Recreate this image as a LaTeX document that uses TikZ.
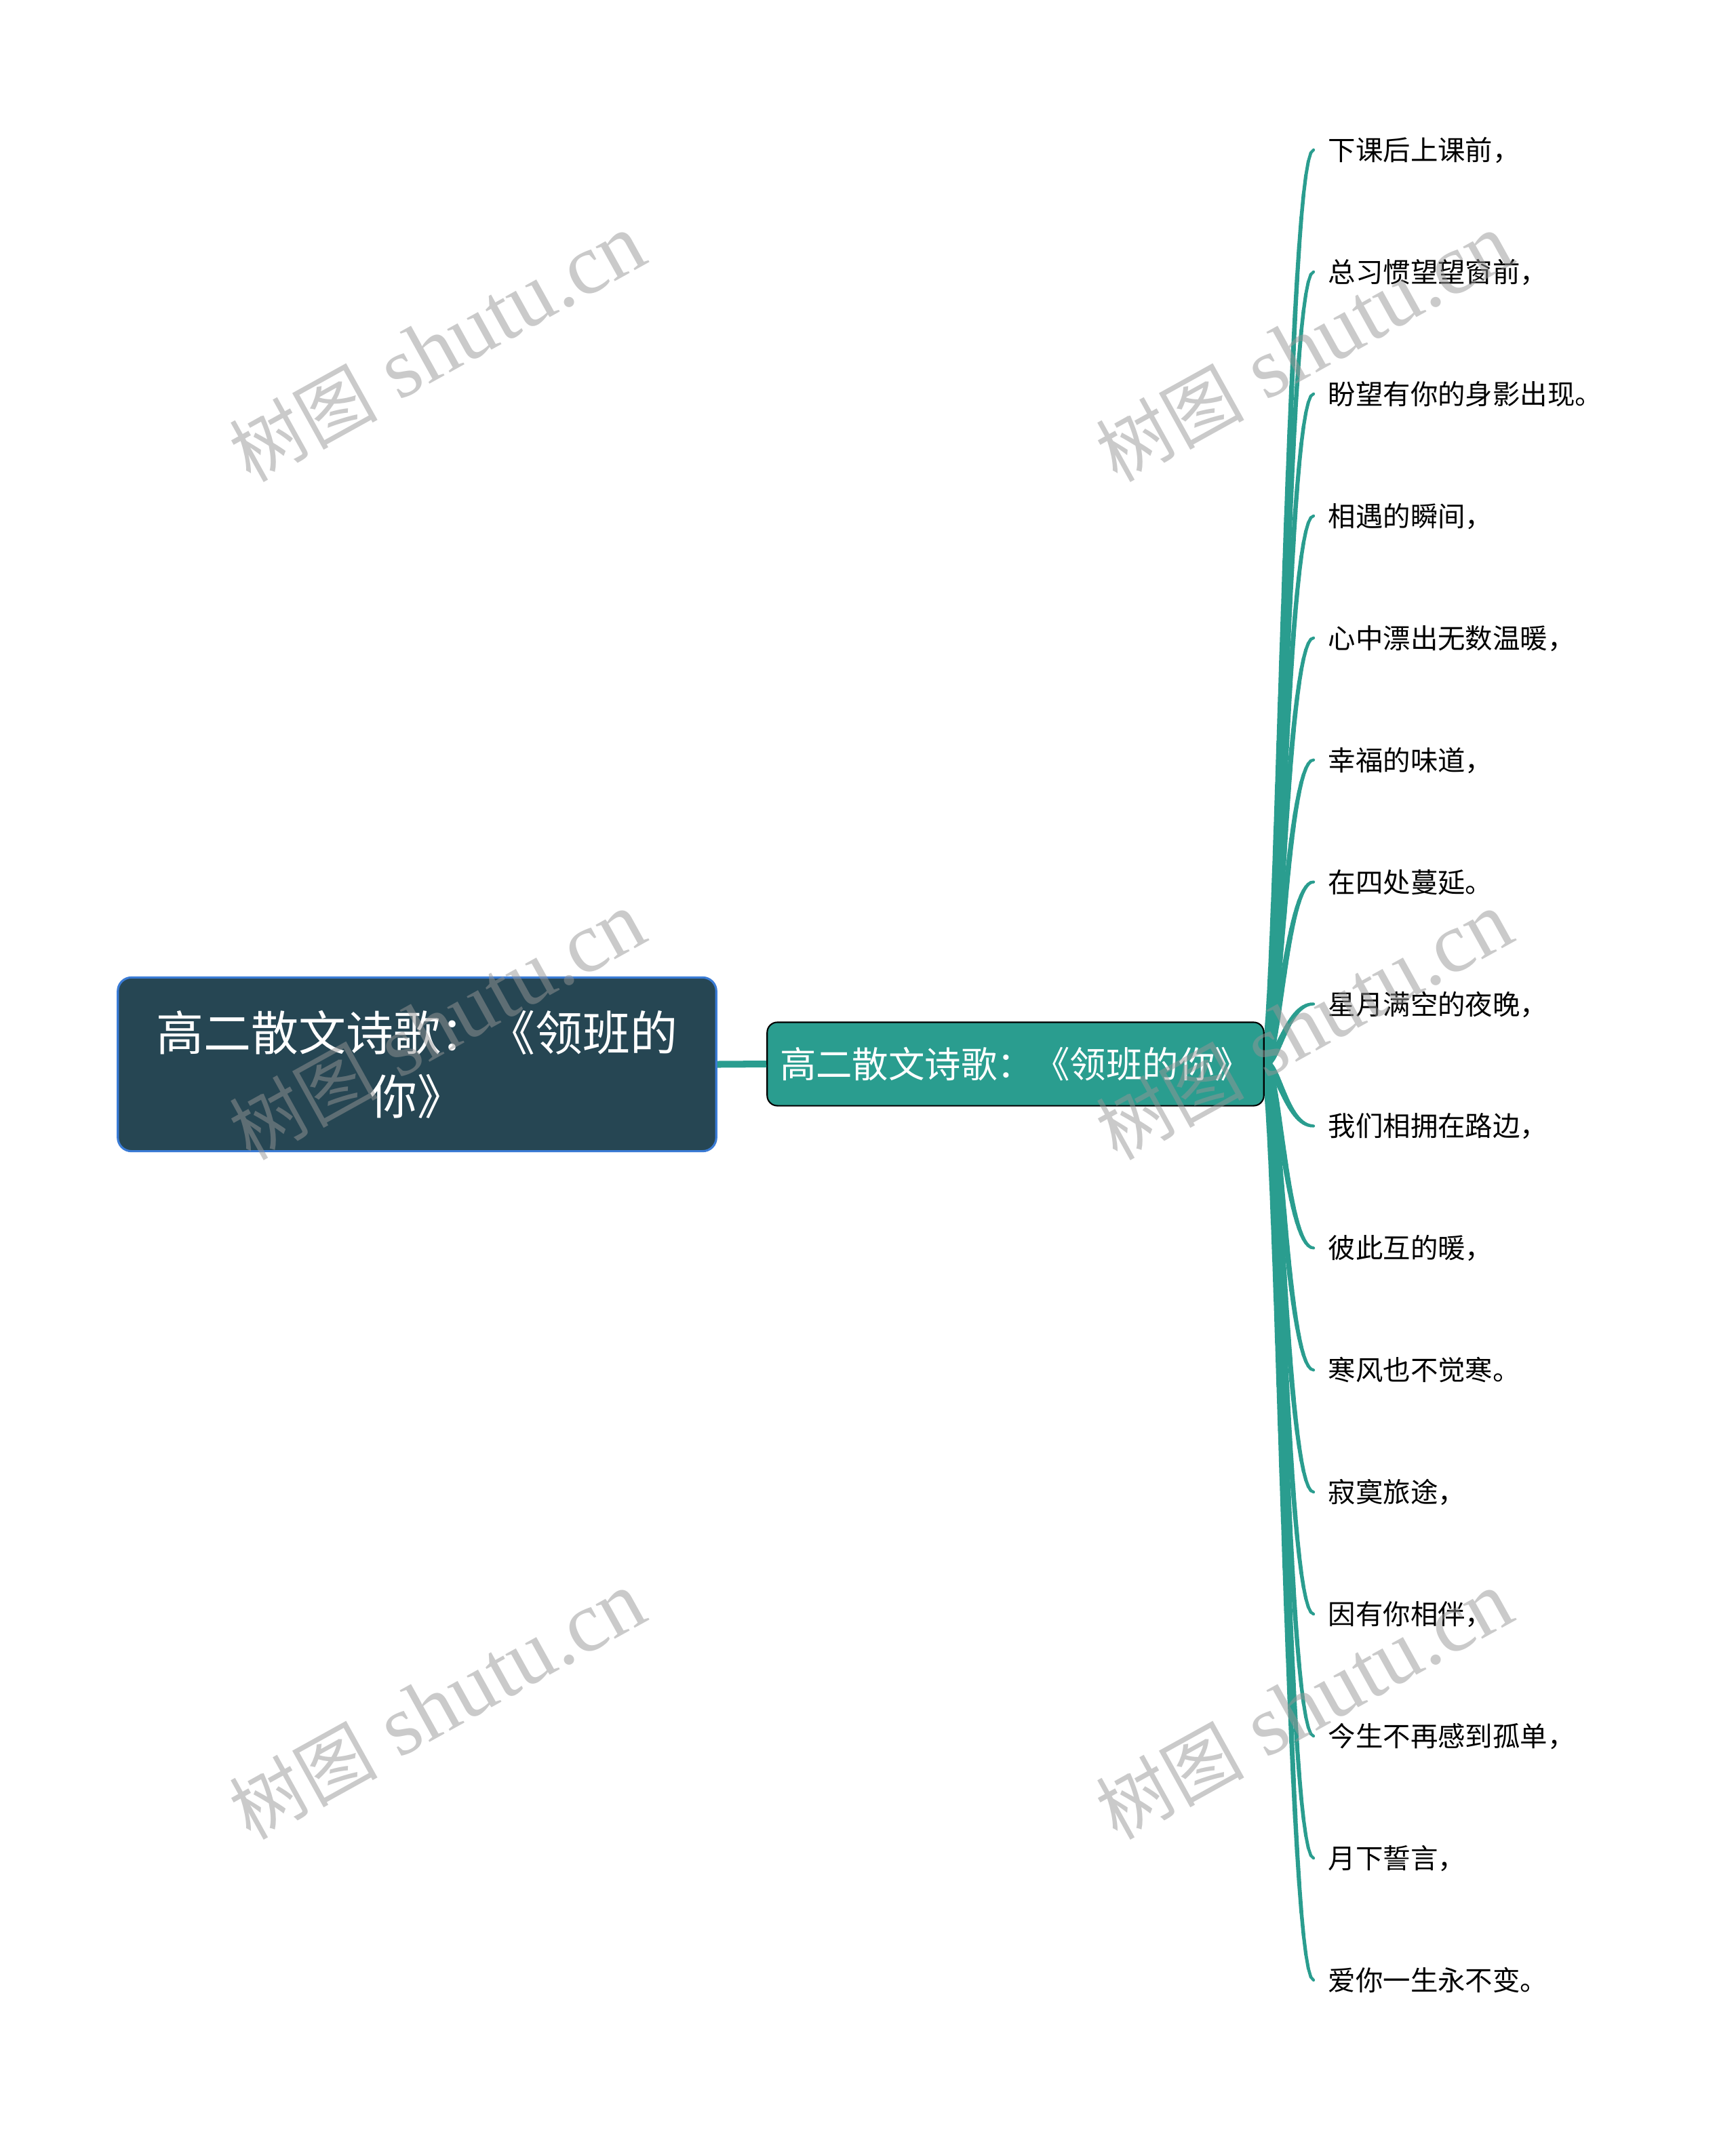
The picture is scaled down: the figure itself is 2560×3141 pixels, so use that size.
\documentclass[tikz,border=0pt]{standalone}
\usepackage{fontspec}
\setmainfont{Noto Sans CJK SC}
\newfontfamily\wmserif{Liberation Serif}
\definecolor{rootfill}{HTML}{264653}
\definecolor{rootline}{HTML}{3A7BD5}
\definecolor{branchteal}{HTML}{2A9D8F}
\definecolor{wmgray}{RGB}{150,150,150}
\tikzset{
  rootbox/.style={draw=rootline, line width=0.9pt, fill=rootfill, rounded corners=0.2cm,
    minimum width=8.82cm, minimum height=2.56cm, inner sep=0pt, text=white, align=center,
    font=\fontsize{19.9}{26.7}\selectfont},
  midbox/.style={draw=black, line width=0.6pt, fill=branchteal, rounded corners=0.15cm,
    minimum width=7.32cm, minimum height=1.23cm, inner sep=0pt, text=white,
    font=\fontsize{15.2}{18}\selectfont},
  leaf/.style={anchor=base west, inner sep=0pt, text=black, font=\fontsize{11.5}{14}\selectfont},
  trunk/.style={draw=branchteal, line width=2.85pt},
  wm/.style={text=wmgray, opacity=0.5, rotate=29, inner sep=0pt},
}
\begin{document}
\begin{tikzpicture}[x=0.01cm,y=-0.01cm]
\useasboundingbox (0,0) rectangle (2560,3141);
\fill[white] (0,0) rectangle (2560,3141);

% tapered branches
\foreach \i in {1,...,16}{
  \pgfmathsetmacro\yy{221+179.93*(\i-1)}
  \foreach \k in {0,...,29}{
    \pgfmathsetmacro\ta{\k/30}
    \pgfmathsetmacro\tb{(\k+1)/30}
    \pgfmathsetmacro\ua{1-\ta}
    \pgfmathsetmacro\ub{1-\tb}
    \pgfmathsetmacro\xa{\ua*\ua*\ua*1864+3*\ua*\ua*\ta*1885+3*\ua*\ta*\ta*1897+\ta*\ta*\ta*1937}
    \pgfmathsetmacro\ya{(\ua*\ua*\ua+3*\ua*\ua*\ta)*1568+(3*\ua*\ta*\ta+\ta*\ta*\ta)*\yy}
    \pgfmathsetmacro\xb{\ub*\ub*\ub*1864+3*\ub*\ub*\tb*1885+3*\ub*\tb*\tb*1897+\tb*\tb*\tb*1937}
    \pgfmathsetmacro\yb{(\ub*\ub*\ub+3*\ub*\ub*\tb)*1568+(3*\ub*\tb*\tb+\tb*\tb*\tb)*\yy}
    \pgfmathsetmacro\lw{(13-9*\ta)*0.2845}
    \draw[branchteal, line width=\lw pt, line cap=round] (\xa,\ya) -- (\xb,\yb);
  }
}

\node[rootbox] (root) at (615,1569.5) {高二散文诗歌：《领班的\\你》};
\node[midbox] (mid) at (1497.5,1569) {高二散文诗歌：《领班的你》};
\draw[trunk] (root.east) -- (mid.west);

\node[leaf] (L1)  at (1958,236)  {下课后上课前，};
\node[leaf] (L2)  at (1958,416)  {总习惯望望窗前，};
\node[leaf] (L3)  at (1958,596)  {盼望有你的身影出现。};
\node[leaf] (L4)  at (1958,776)  {相遇的瞬间，};
\node[leaf] (L5)  at (1958,956)  {心中漂出无数温暖，};
\node[leaf] (L6)  at (1958,1136) {幸福的味道，};
\node[leaf] (L7)  at (1958,1316) {在四处蔓延。};
\node[leaf] (L8)  at (1958,1496) {星月满空的夜晚，};
\node[leaf] (L9)  at (1958,1675) {我们相拥在路边，};
\node[leaf] (L10) at (1958,1855) {彼此互的暖，};
\node[leaf] (L11) at (1958,2035) {寒风也不觉寒。};
\node[leaf] (L12) at (1958,2215) {寂寞旅途，};
\node[leaf] (L13) at (1958,2395) {因有你相伴，};
\node[leaf] (L14) at (1958,2575) {今生不再感到孤单，};
\node[leaf] (L15) at (1958,2755) {月下誓言，};
\node[leaf] (L16) at (1958,2935) {爱你一生永不变。};

% watermarks
\foreach \wx/\wy [count=\n] in {645/513,1923/513,645/1513,1923/1513,645/2515,1923/2515}{
  \node[wm] (wm\n) at (\wx,\wy) {{\fontsize{31}{31}\selectfont 树图}\hspace{9pt}{\wmserif\fontsize{36}{36}\selectfont shutu.cn}};
}
\end{tikzpicture}
\end{document}
